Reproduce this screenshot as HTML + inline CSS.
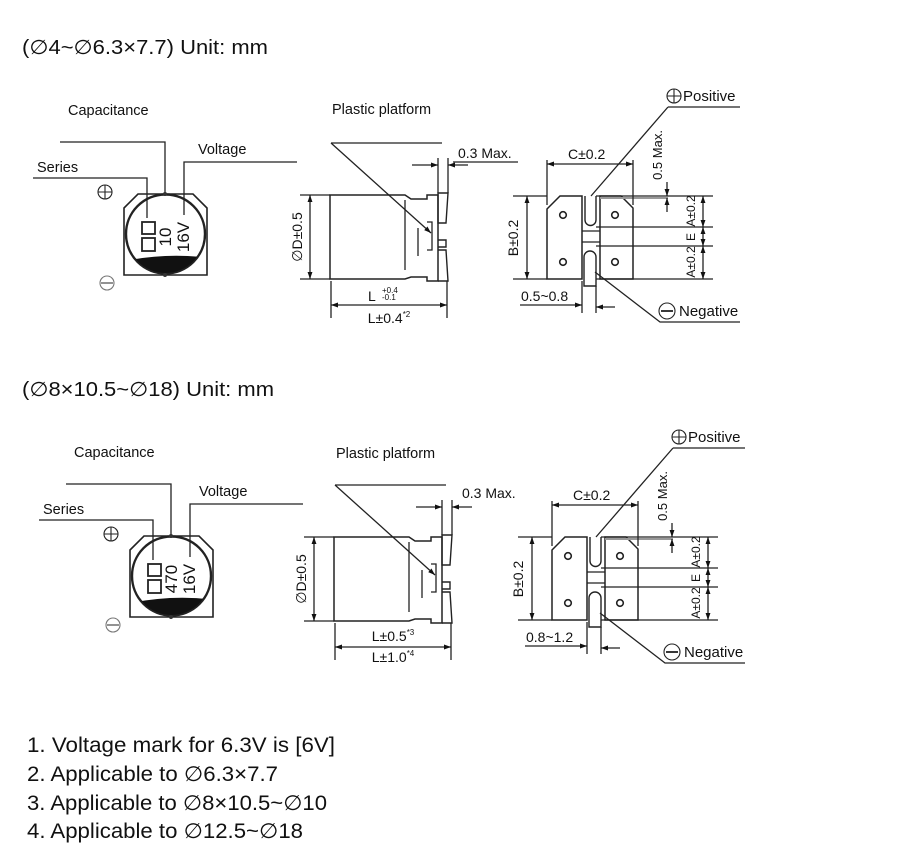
<!DOCTYPE html>
<html><head><meta charset="utf-8"><style>
html,body{margin:0;padding:0;background:#fff;}
svg{display:block;}
text{font-family:"Liberation Sans",Arial,sans-serif;fill:#111;}
</style></head><body>
<svg width="900" height="859" viewBox="0 0 900 859" xmlns="http://www.w3.org/2000/svg">
<defs>
<marker id="ar" viewBox="0 0 10 10" refX="10" refY="5" markerWidth="7" markerHeight="7" orient="auto-start-reverse" markerUnits="userSpaceOnUse"><path d="M0,1.5 L10,5 L0,8.5 Z" fill="#111"/></marker>
<clipPath id="c1"><ellipse cx="165.5" cy="234" rx="39" ry="39"/></clipPath>
</defs>

<text x="22" y="54" font-size="20" textLength="246" lengthAdjust="spacingAndGlyphs">(∅4~∅6.3×7.7) Unit: mm</text>
<text x="22" y="396" font-size="20" textLength="252" lengthAdjust="spacingAndGlyphs">(∅8×10.5~∅18) Unit: mm</text>

<!-- ================= SECTION 1 ================= -->
<g fill="none" stroke="#222" stroke-width="1.3">
  <polyline points="60,142 165,142 165,193"/>
  <polyline points="33,178 147,178 147,218"/>
  <polyline points="297,162 184,162 184,215"/>
  <path d="M124,208 L138,194 L193,194 L207,208 L207,275 L124,275 Z" stroke-width="1.6"/>
  <circle cx="165.5" cy="234" r="39.5" stroke-width="2.4"/>
  <rect x="142" y="222" width="13" height="12" stroke-width="1.8"/>
  <rect x="142" y="238" width="13" height="13" stroke-width="1.8"/>
  <circle cx="105" cy="192" r="7" stroke-width="1.1"/><path d="M98,192 H112 M105,185 V199" stroke-width="1.1"/>
  <circle cx="107" cy="283" r="7" stroke="#777" stroke-width="1.1"/><path d="M101,283 H113" stroke="#777" stroke-width="1.6"/>
</g>
<path d="M120,262 Q165,252 210,258 L210,280 L120,280 Z" fill="#111" clip-path="url(#c1)"/>
<circle cx="165" cy="194" r="2" fill="#333"/><circle cx="165" cy="275" r="2" fill="#333"/>
<text transform="translate(171,237) rotate(-90)" font-size="17" text-anchor="middle">10</text>
<text transform="translate(189,237) rotate(-90)" font-size="17" text-anchor="middle">16V</text>
<text x="68" y="115" font-size="14.5">Capacitance</text>
<text x="37" y="172" font-size="14.5">Series</text>
<text x="198" y="154" font-size="14.5">Voltage</text>

<g fill="none" stroke="#222" stroke-width="1.3">
  <line x1="331" y1="143" x2="442" y2="143"/>
  <line x1="331" y1="143" x2="431" y2="233" marker-end="url(#ar)"/>
  <path d="M330,195 H405 L411,199 H427 V195 H438 V281 H427 V277 H411 L405,279 H330 Z" stroke-width="1.5"/>
  <line x1="405" y1="200" x2="405" y2="270"/>
  <line x1="418" y1="228" x2="418" y2="256"/>
  <path d="M427,222 H432 V250 H427" />
  <path d="M438,193 H448 L446,223 H438 Z M438,240 H446 V247 H438 M438,250 H446 L448,281 H438" stroke-width="1.4"/>
  <line x1="438" y1="158" x2="438" y2="193"/>
  <line x1="448" y1="158" x2="448" y2="193"/>
  <line x1="412" y1="165" x2="438" y2="165" marker-end="url(#ar)"/>
  <line x1="468" y1="165" x2="448" y2="165" marker-end="url(#ar)"/>
  <line x1="453" y1="162" x2="518" y2="162"/>
  <line x1="300" y1="195" x2="330" y2="195"/>
  <line x1="300" y1="279" x2="330" y2="279"/>
  <line x1="310" y1="195" x2="310" y2="279" marker-start="url(#ar)" marker-end="url(#ar)"/>
  <line x1="331" y1="281" x2="331" y2="318"/>
  <line x1="447" y1="281" x2="447" y2="318"/>
  <line x1="331" y1="305" x2="447" y2="305" marker-start="url(#ar)" marker-end="url(#ar)"/>
</g>
<text x="332" y="114" font-size="14.5">Plastic platform</text>
<text x="458" y="158" font-size="14">0.3 Max.</text>
<text transform="translate(302,237) rotate(-90)" font-size="14" text-anchor="middle">∅D±0.5</text>
<text x="368" y="301" font-size="14">L</text>
<text x="382" y="293" font-size="8">+0.4</text>
<text x="382" y="300" font-size="8">-0.1</text>
<text x="389" y="323" font-size="14" text-anchor="middle">L±0.4<tspan font-size="8" dy="-6">*2</tspan></text>

<g fill="none" stroke="#222" stroke-width="1.3">
  <path d="M547,209 L560,196 H582 V279 H547 Z" stroke-width="1.5"/>
  <path d="M600,196 H621 L633,208 V279 H600 Z" stroke-width="1.5"/>
  <path d="M585,196 V220 A5.5,5.5 0 0 0 596,220 V196" stroke-width="1.4"/>
  <path d="M584,286 V257 A6,6 0 0 1 596,257 V286 Z" stroke-width="1.4"/>
  <circle cx="563" cy="215" r="3.3" stroke-width="1.6"/><circle cx="615" cy="215" r="3.3" stroke-width="1.6"/>
  <circle cx="563" cy="262" r="3.3" stroke-width="1.6"/><circle cx="615" cy="262" r="3.3" stroke-width="1.6"/>
  <line x1="582" y1="231" x2="600" y2="231"/><line x1="582" y1="242" x2="600" y2="242"/>
  <line x1="596" y1="227" x2="713" y2="227"/><line x1="596" y1="246" x2="713" y2="246"/>
  <line x1="596" y1="196" x2="713" y2="196"/>
  <line x1="600" y1="198" x2="668" y2="198" stroke="#999" stroke-width="2"/>
  <line x1="596" y1="279" x2="713" y2="279"/>
  <line x1="513" y1="196" x2="547" y2="196"/><line x1="513" y1="279" x2="547" y2="279"/>
  <line x1="527" y1="196" x2="527" y2="279" marker-start="url(#ar)" marker-end="url(#ar)"/>
  <line x1="547" y1="160" x2="547" y2="205"/><line x1="633" y1="160" x2="633" y2="205"/>
  <line x1="547" y1="164" x2="633" y2="164" marker-start="url(#ar)" marker-end="url(#ar)"/>
  <line x1="703" y1="196" x2="703" y2="227" marker-start="url(#ar)" marker-end="url(#ar)"/>
  <line x1="703" y1="227" x2="703" y2="246" marker-start="url(#ar)" marker-end="url(#ar)"/>
  <line x1="703" y1="246" x2="703" y2="279" marker-start="url(#ar)" marker-end="url(#ar)"/>
  <line x1="667" y1="182" x2="667" y2="196" marker-end="url(#ar)"/>
  <line x1="667" y1="212" x2="667" y2="198" marker-end="url(#ar)"/>
  <line x1="668" y1="107" x2="740" y2="107"/>
  <line x1="668" y1="107" x2="591" y2="196"/>
  <polyline points="595,272 660,322 740,322"/>
  <line x1="582" y1="281" x2="582" y2="313"/><line x1="596" y1="286" x2="596" y2="313"/>
  <line x1="520" y1="305" x2="582" y2="305" marker-end="url(#ar)"/>
  <line x1="615" y1="307" x2="596" y2="307" marker-end="url(#ar)"/>
  <circle cx="674" cy="96" r="7" stroke-width="1.1"/><path d="M667,96 H681 M674,89 V103" stroke-width="1.1"/>
  <circle cx="667" cy="311" r="8" stroke-width="1.1"/><path d="M661,311 H673" stroke-width="1.8"/>
</g>
<text x="568" y="159" font-size="14">C±0.2</text>
<text transform="translate(518,238) rotate(-90)" font-size="14" text-anchor="middle">B±0.2</text>
<text transform="translate(662,155) rotate(-90)" font-size="13" text-anchor="middle">0.5 Max.</text>
<text transform="translate(695,262) rotate(-90)" font-size="12" text-anchor="middle">A±0.2</text>
<text transform="translate(695,237) rotate(-90)" font-size="12" text-anchor="middle">E</text>
<text transform="translate(695,211) rotate(-90)" font-size="12" text-anchor="middle">A±0.2</text>
<text x="683" y="101" font-size="15">Positive</text>
<text x="679" y="316" font-size="15">Negative</text>
<text x="521" y="301" font-size="14">0.5~0.8</text>

<!-- ================= SECTION 2 ================= -->
<g transform="translate(6,342)">
<g fill="none" stroke="#222" stroke-width="1.3">
  <polyline points="60,142 165,142 165,193"/>
  <polyline points="33,178 147,178 147,218"/>
  <polyline points="297,162 184,162 184,215"/>
  <path d="M124,208 L138,194 L193,194 L207,208 L207,275 L124,275 Z" stroke-width="1.6"/>
  <circle cx="165.5" cy="234" r="39.5" stroke-width="2.4"/>
  <rect x="142" y="222" width="13" height="12" stroke-width="1.8"/>
  <rect x="142" y="238" width="13" height="13" stroke-width="1.8"/>
  <circle cx="105" cy="192" r="7" stroke-width="1.1"/><path d="M98,192 H112 M105,185 V199" stroke-width="1.1"/>
  <circle cx="107" cy="283" r="7" stroke="#777" stroke-width="1.1"/><path d="M101,283 H113" stroke="#777" stroke-width="1.6"/>
</g>
<path d="M120,262 Q165,252 210,258 L210,280 L120,280 Z" fill="#111" clip-path="url(#c1)"/>
<circle cx="165" cy="194" r="2" fill="#333"/><circle cx="165" cy="275" r="2" fill="#333"/>
<text transform="translate(171,237) rotate(-90)" font-size="17" text-anchor="middle">470</text>
<text transform="translate(189,237) rotate(-90)" font-size="17" text-anchor="middle">16V</text>
<text x="68" y="115" font-size="14.5">Capacitance</text>
<text x="37" y="172" font-size="14.5">Series</text>
<text x="193" y="154" font-size="14.5">Voltage</text>
</g>

<g transform="translate(4,342)">
<g fill="none" stroke="#222" stroke-width="1.3">
  <line x1="331" y1="143" x2="442" y2="143"/>
  <line x1="331" y1="143" x2="431" y2="233" marker-end="url(#ar)"/>
  <path d="M330,195 H405 L411,199 H427 V195 H438 V281 H427 V277 H411 L405,279 H330 Z" stroke-width="1.5"/>
  <line x1="405" y1="200" x2="405" y2="270"/>
  <line x1="418" y1="228" x2="418" y2="256"/>
  <path d="M427,222 H432 V250 H427" />
  <path d="M438,193 H448 L446,223 H438 Z M438,240 H446 V247 H438 M438,250 H446 L448,281 H438" stroke-width="1.4"/>
  <line x1="438" y1="158" x2="438" y2="193"/>
  <line x1="448" y1="158" x2="448" y2="193"/>
  <line x1="412" y1="165" x2="438" y2="165" marker-end="url(#ar)"/>
  <line x1="468" y1="165" x2="448" y2="165" marker-end="url(#ar)"/>
  <line x1="300" y1="195" x2="330" y2="195"/>
  <line x1="300" y1="279" x2="330" y2="279"/>
  <line x1="310" y1="195" x2="310" y2="279" marker-start="url(#ar)" marker-end="url(#ar)"/>
  <line x1="331" y1="281" x2="331" y2="318"/>
  <line x1="447" y1="281" x2="447" y2="318"/>
  <line x1="331" y1="305" x2="447" y2="305" marker-start="url(#ar)" marker-end="url(#ar)"/>
</g>
<text x="332" y="116" font-size="14.5">Plastic platform</text>
<text x="458" y="156" font-size="14">0.3 Max.</text>
<text transform="translate(302,237) rotate(-90)" font-size="14" text-anchor="middle">∅D±0.5</text>
<text x="389" y="299" font-size="14" text-anchor="middle">L±0.5<tspan font-size="8" dy="-6">*3</tspan></text>
<text x="389" y="320" font-size="14" text-anchor="middle">L±1.0<tspan font-size="8" dy="-6">*4</tspan></text>
</g>

<g transform="translate(5,341)">
<g fill="none" stroke="#222" stroke-width="1.3">
  <path d="M547,209 L560,196 H582 V279 H547 Z" stroke-width="1.5"/>
  <path d="M600,196 H621 L633,208 V279 H600 Z" stroke-width="1.5"/>
  <path d="M585,196 V220 A5.5,5.5 0 0 0 596,220 V196" stroke-width="1.4"/>
  <path d="M584,286 V257 A6,6 0 0 1 596,257 V286 Z" stroke-width="1.4"/>
  <circle cx="563" cy="215" r="3.3" stroke-width="1.6"/><circle cx="615" cy="215" r="3.3" stroke-width="1.6"/>
  <circle cx="563" cy="262" r="3.3" stroke-width="1.6"/><circle cx="615" cy="262" r="3.3" stroke-width="1.6"/>
  <line x1="582" y1="231" x2="600" y2="231"/><line x1="582" y1="242" x2="600" y2="242"/>
  <line x1="596" y1="227" x2="713" y2="227"/><line x1="596" y1="246" x2="713" y2="246"/>
  <line x1="596" y1="196" x2="713" y2="196"/>
  <line x1="600" y1="198" x2="668" y2="198" stroke="#999" stroke-width="2"/>
  <line x1="596" y1="279" x2="713" y2="279"/>
  <line x1="513" y1="196" x2="547" y2="196"/><line x1="513" y1="279" x2="547" y2="279"/>
  <line x1="527" y1="196" x2="527" y2="279" marker-start="url(#ar)" marker-end="url(#ar)"/>
  <line x1="547" y1="160" x2="547" y2="205"/><line x1="633" y1="160" x2="633" y2="205"/>
  <line x1="547" y1="164" x2="633" y2="164" marker-start="url(#ar)" marker-end="url(#ar)"/>
  <line x1="703" y1="196" x2="703" y2="227" marker-start="url(#ar)" marker-end="url(#ar)"/>
  <line x1="703" y1="227" x2="703" y2="246" marker-start="url(#ar)" marker-end="url(#ar)"/>
  <line x1="703" y1="246" x2="703" y2="279" marker-start="url(#ar)" marker-end="url(#ar)"/>
  <line x1="667" y1="182" x2="667" y2="196" marker-end="url(#ar)"/>
  <line x1="667" y1="212" x2="667" y2="198" marker-end="url(#ar)"/>
  <line x1="668" y1="107" x2="740" y2="107"/>
  <line x1="668" y1="107" x2="591" y2="196"/>
  <polyline points="595,272 660,322 740,322"/>
  <line x1="582" y1="281" x2="582" y2="313"/><line x1="596" y1="286" x2="596" y2="313"/>
  <line x1="520" y1="305" x2="582" y2="305" marker-end="url(#ar)"/>
  <line x1="615" y1="307" x2="596" y2="307" marker-end="url(#ar)"/>
  <circle cx="674" cy="96" r="7" stroke-width="1.1"/><path d="M667,96 H681 M674,89 V103" stroke-width="1.1"/>
  <circle cx="667" cy="311" r="8" stroke-width="1.1"/><path d="M661,311 H673" stroke-width="1.8"/>
</g>
<text x="568" y="159" font-size="14">C±0.2</text>
<text transform="translate(518,238) rotate(-90)" font-size="14" text-anchor="middle">B±0.2</text>
<text transform="translate(662,155) rotate(-90)" font-size="13" text-anchor="middle">0.5 Max.</text>
<text transform="translate(695,262) rotate(-90)" font-size="12" text-anchor="middle">A±0.2</text>
<text transform="translate(695,237) rotate(-90)" font-size="12" text-anchor="middle">E</text>
<text transform="translate(695,211) rotate(-90)" font-size="12" text-anchor="middle">A±0.2</text>
<text x="683" y="101" font-size="15">Positive</text>
<text x="679" y="316" font-size="15">Negative</text>
<text x="521" y="301" font-size="14">0.8~1.2</text>
</g>

<text x="27" y="752" font-size="21" textLength="308" lengthAdjust="spacingAndGlyphs">1. Voltage mark for 6.3V is [6V]</text>
<text x="27" y="781" font-size="21" textLength="251" lengthAdjust="spacingAndGlyphs">2. Applicable to ∅6.3×7.7</text>
<text x="27" y="810" font-size="21" textLength="300" lengthAdjust="spacingAndGlyphs">3. Applicable to ∅8×10.5~∅10</text>
<text x="27" y="838" font-size="21" textLength="276" lengthAdjust="spacingAndGlyphs">4. Applicable to ∅12.5~∅18</text>
</svg>
</body></html>
